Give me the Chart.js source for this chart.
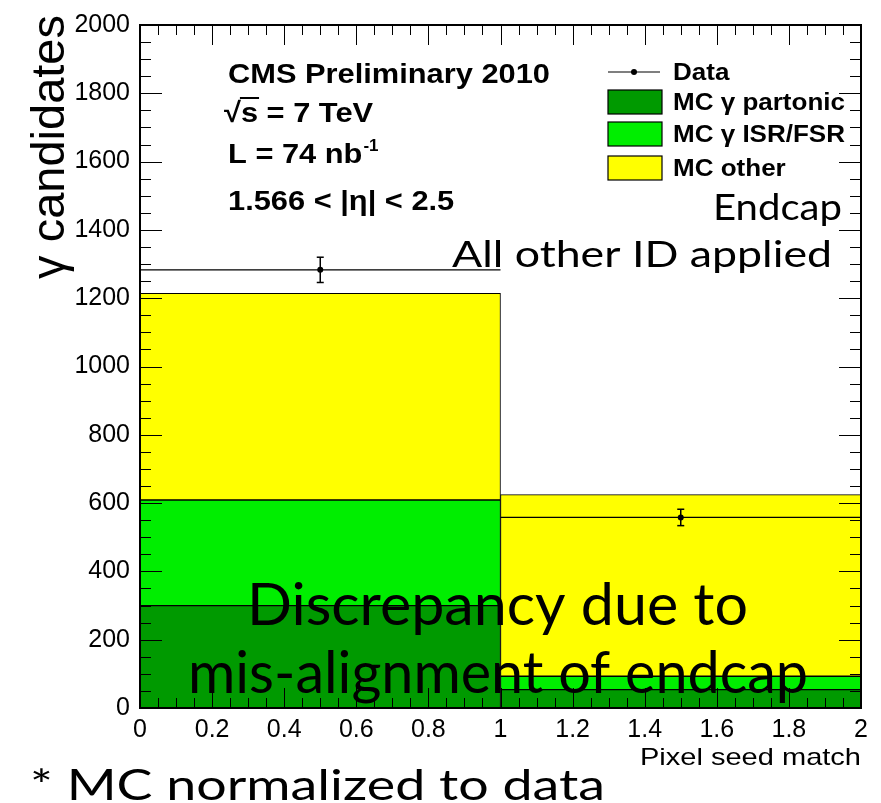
<!DOCTYPE html>
<html>
<head>
<meta charset="utf-8">
<title>Pixel seed match</title>
<script src="https://cdn.jsdelivr.net/npm/chart.js@4.4.1/dist/chart.umd.min.js"></script>
<style>
  html, body { margin: 0; padding: 0; background: #fff; }
  canvas { display: block; }
</style>
</head>
<body>
<canvas id="chart" width="881" height="803"></canvas>
<script>
// pixel seed match: bin 0 = no match, bin 1 = match
const binEdges = [0, 1, 2];
const mcPartonic = [300, 54];
const mcIsrFsr = [309, 39];
const mcOther = [605, 532];
const dataCounts = [1283, 558];
const dataErrors = [37, 24];

const mcLabels = ['MC γ partonic', 'MC γ ISR/FSR', 'MC other'];
const mcColors = ['#009a00', '#00ee00', '#ffff00'];

const yRange = { min: 0, max: 2000, major: 200, minor: 50 };
const xRange = { min: 0, max: 2, major: 0.2, minor: 0.05 };

const HELV = "'Liberation Sans', Arial, Helvetica, sans-serif";
const GILL = "Lato, 'Open Sans', sans-serif";

const binCenters = binEdges.slice(0, -1).map((e, i) => (e + binEdges[i + 1]) / 2);
const toPoints = vals => vals.map((v, i) => ({ x: binCenters[i], y: v }));

// data drawn as a flat line across each bin with a marker at the centre
const dataLine = [];
dataCounts.forEach((v, i) => {
  if (i > 0) dataLine.push({ x: binEdges[i], y: null });
  dataLine.push({ x: binEdges[i], y: v }, { x: binCenters[i], y: v, c: true }, { x: binEdges[i + 1], y: v });
});

const mcValues = [mcPartonic, mcIsrFsr, mcOther];
const datasets = mcValues.map((vals, k) => ({
  type: 'bar',
  label: mcLabels[k],
  data: toPoints(vals),
  backgroundColor: mcColors[k],
  borderColor: '#000',
  borderWidth: 1,
  borderSkipped: false,
  barThickness: 'flex',
  categoryPercentage: 1,
  barPercentage: 1,
  order: 1
}));
datasets.push({
  type: 'line',
  label: 'Data',
  data: dataLine,
  borderColor: '#000',
  borderWidth: 1.3,
  pointRadius: ctx => (ctx.raw && ctx.raw.c ? 3 : 0),
  pointBackgroundColor: '#000',
  pointBorderWidth: 0,
  spanGaps: false,
  tension: 0,
  stack: 'data',
  order: 0
});

function line(ctx, x1, y1, x2, y2) {
  ctx.beginPath();
  ctx.moveTo(x1, y1);
  ctx.lineTo(x2, y2);
  ctx.stroke();
}

// text squeezed/stretched horizontally to the width it has in the picture
function fitText(ctx, text, x, y, font, width) {
  ctx.save();
  ctx.font = font;
  ctx.textAlign = 'left';
  ctx.textBaseline = 'alphabetic';
  const sx = width ? width / ctx.measureText(text).width : 1;
  ctx.translate(x, y);
  ctx.scale(sx, 1);
  ctx.fillText(text, 0, 0);
  ctx.restore();
  return sx;
}

const histDecor = {
  id: 'histDecor',
  afterDatasetsDraw(chart) {
    const ctx = chart.ctx;
    const xs = chart.scales.x, ys = chart.scales.y;
    ctx.save();
    ctx.strokeStyle = '#000';
    ctx.lineWidth = 1.5;
    dataCounts.forEach((v, i) => {
      const px = xs.getPixelForValue(binCenters[i]);
      const hi = ys.getPixelForValue(v + dataErrors[i]);
      const lo = ys.getPixelForValue(v - dataErrors[i]);
      line(ctx, px, hi, px, lo);
      line(ctx, px - 3.5, hi, px + 3.5, hi);
      line(ctx, px - 3.5, lo, px + 3.5, lo);
    });
    ctx.restore();
  },
  afterDraw(chart) {
    const ctx = chart.ctx;
    const { left, right, top, bottom } = chart.chartArea;
    const xs = chart.scales.x, ys = chart.scales.y;
    ctx.save();
    ctx.strokeStyle = '#000';
    ctx.fillStyle = '#000';

    // tick marks on all four sides
    ctx.lineWidth = 1;
    const nY = Math.round((yRange.max - yRange.min) / yRange.minor);
    const yEvery = Math.round(yRange.major / yRange.minor);
    for (let i = 0; i <= nY; i++) {
      const py = Math.round(ys.getPixelForValue(yRange.min + i * yRange.minor)) + 0.5;
      const len = i % yEvery === 0 ? 22 : 11;
      line(ctx, left, py, left + len, py);
      line(ctx, right, py, right - len, py);
    }
    const nX = Math.round((xRange.max - xRange.min) / xRange.minor);
    const xEvery = Math.round(xRange.major / xRange.minor);
    for (let i = 0; i <= nX; i++) {
      const px = Math.round(xs.getPixelForValue(xRange.min + i * xRange.minor)) + 0.5;
      const len = i % xEvery === 0 ? 20 : 10;
      line(ctx, px, bottom, px, bottom - len);
      line(ctx, px, top, px, top + len);
    }
    ctx.lineWidth = 2;
    ctx.strokeRect(left, top, right - left, bottom - top);

    // axis titles
    ctx.save();
    ctx.font = '47px ' + HELV;
    ctx.textAlign = 'right';
    ctx.textBaseline = 'alphabetic';
    ctx.translate(64, 15);
    ctx.rotate(-Math.PI / 2);
    ctx.fillText('γ candidates', 0, 0);
    ctx.restore();
    fitText(ctx, 'Pixel seed match', 640, 765, '24px ' + HELV, 221);

    // CMS label block
    const bold = 'bold 28px ' + HELV;
    const sx = fitText(ctx, 'CMS Preliminary 2010', 228, 83, bold, 322);
    ctx.font = bold;
    const rootW = ctx.measureText('√').width * sx;
    const sW = ctx.measureText('s').width * sx;
    fitText(ctx, '√s = 7 TeV', 224, 122, bold, ctx.measureText('√s = 7 TeV').width * sx);
    ctx.lineWidth = 2;
    line(ctx, 224 + rootW - 1, 98, 224 + rootW + sW + 1, 98);
    const lW = ctx.measureText('L = 74 nb').width * sx;
    fitText(ctx, 'L = 74 nb', 228, 163, bold, lW);
    fitText(ctx, '-1', 228 + lW + 1, 151, 'bold 17px ' + HELV, null);
    fitText(ctx, '1.566 < |η| < 2.5', 228, 210, bold, ctx.measureText('1.566 < |η| < 2.5').width * sx);

    // legend
    ctx.lineWidth = 1.2;
    line(ctx, 608, 72, 660, 72);
    ctx.beginPath();
    ctx.arc(634, 72, 3, 0, Math.PI * 2);
    ctx.fill();
    const legFont = 'bold 23px ' + HELV;
    ctx.font = legFont;
    const lsx = 172 / ctx.measureText('MC γ ISR/FSR').width;
    fitText(ctx, 'Data', 673, 80, legFont, ctx.measureText('Data').width * lsx);
    const boxY = [90, 122, 156];
    chart.data.datasets.slice(0, 3).forEach((ds, k) => {
      ctx.fillStyle = ds.backgroundColor;
      ctx.fillRect(608, boxY[k], 54, 24);
      ctx.lineWidth = 1.2;
      ctx.strokeRect(608, boxY[k], 54, 24);
      ctx.fillStyle = '#000';
      ctx.font = legFont;
      fitText(ctx, ds.label, 673, boxY[k] + 20, legFont, ctx.measureText(ds.label).width * lsx);
    });

    // slide annotations
    fitText(ctx, 'Endcap', 713, 220, '37px ' + GILL, 129);
    fitText(ctx, 'All other ID applied', 452, 267, '37px ' + GILL, 380);
    fitText(ctx, 'Discrepancy due to', 247, 625, '58px ' + GILL, 501);
    fitText(ctx, 'mis-alignment of endcap', 188, 693, '58px ' + GILL, 620);
    fitText(ctx, '* MC normalized to data', 30, 800, '42px ' + GILL, 575);
    ctx.restore();
  }
};

new Chart(document.getElementById('chart').getContext('2d'), {
  type: 'bar',
  data: { datasets },
  options: {
    responsive: false,
    animation: false,
    layout: { padding: { top: 16, right: 20, bottom: 0, left: 0 } },
    plugins: { legend: { display: false }, tooltip: { enabled: false } },
    scales: {
      x: {
        type: 'linear',
        min: xRange.min,
        max: xRange.max,
        stacked: true,
        offset: false,
        grid: { display: false, drawTicks: false },
        border: { display: false },
        ticks: {
          stepSize: xRange.major,
          autoSkip: false,
          maxRotation: 0,
          padding: 7,
          color: '#000',
          font: { family: HELV, size: 25 },
          callback: v => String(+v.toFixed(1))
        },
        afterFit: s => { s.height = 95; }
      },
      y: {
        min: yRange.min,
        max: yRange.max,
        stacked: true,
        grid: { display: false, drawTicks: false },
        border: { display: false },
        ticks: {
          stepSize: yRange.major,
          padding: 10,
          color: '#000',
          font: { family: HELV, size: 25 },
          callback: v => String(v)
        },
        afterFit: s => { s.width = 140; }
      }
    }
  },
  plugins: [histDecor]
});
</script>
</body>
</html>
